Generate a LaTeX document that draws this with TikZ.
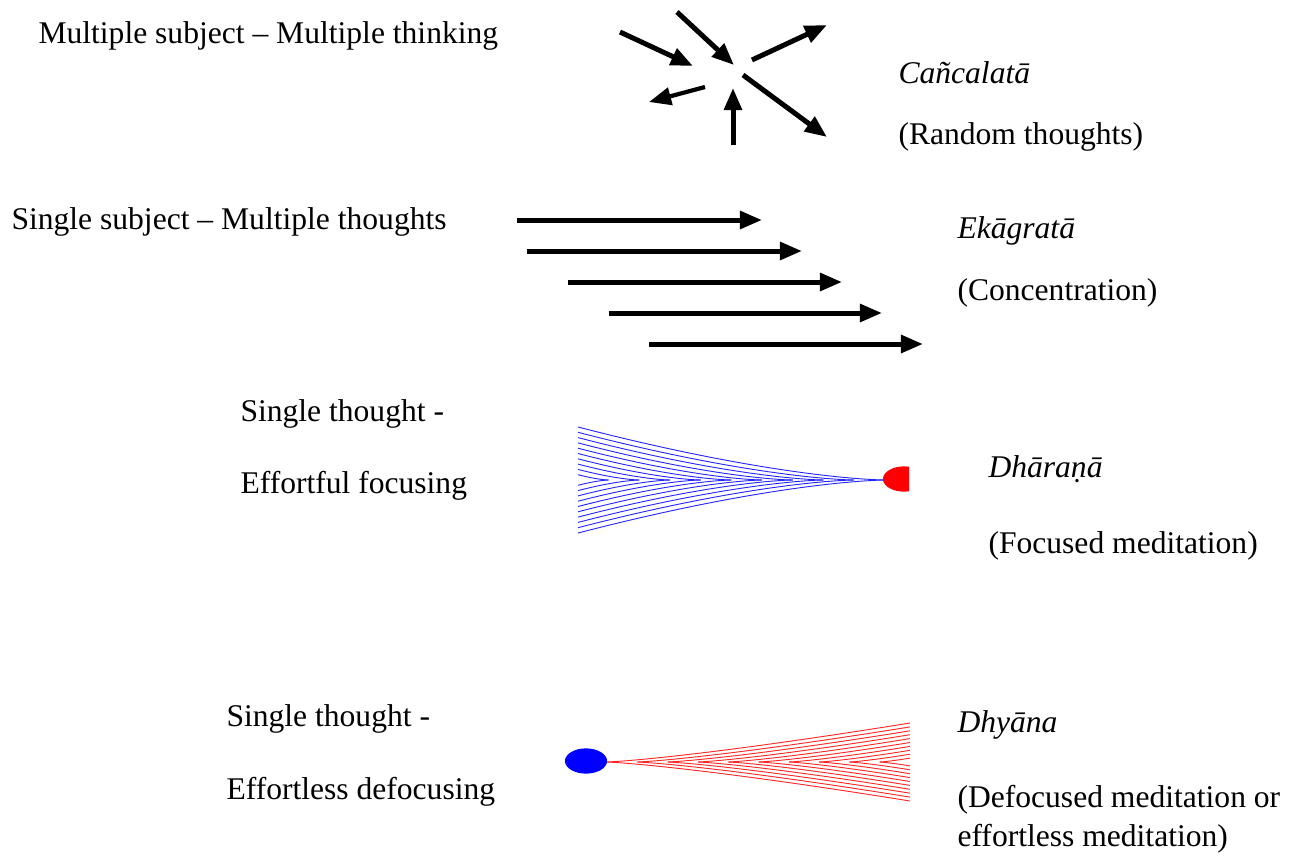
\documentclass[tikz,border=0pt]{standalone}
\usepackage{fontspec}
\setmainfont{Liberation Serif}
\usetikzlibrary{arrows.meta}

\begin{document}
\begin{tikzpicture}[x=0.38pt, y=-0.38pt,
    txt/.style={anchor=base west, inner sep=0pt, font=\fontsize{12}{14}\selectfont},
    itxt/.style={txt, font=\fontsize{12}{14}\selectfont\itshape},
    thought/.style={-{Triangle[length=8.4pt, width=6.6pt]}, line width=1.9pt, draw=black},
    bluefan/.style={draw=blue!85, line width=0.35pt},
    redfan/.style={draw=red!85, line width=0.35pt}]
    \useasboundingbox (0,0) rectangle (1303,857);

    % 1. Cancalata
    \node[txt] (multsub) at (38,43) {Multiple subject – Multiple thinking};
    \draw[thought] (620,32) -- (693,66);
    \draw[thought] (677,12) -- (734,65);
    \draw[thought] (752,60) -- (827,25);
    \draw[thought, line width=1.6pt] (705,87) -- (649,102);
    \draw[thought] (733,145) -- (733,88);
    \draw[thought] (743,75) -- (827,137);
    \node[itxt] (cancala) at (898,83) {Cañcalatā};
    \node[txt] (random) at (898,144) {(Random thoughts)};

    % 2. Ekagrata
    \node[txt] (singsub) at (11,229) {Single subject – Multiple thoughts};
    \draw[thought] (517,220) -- (762,220);
    \draw[thought] (527,251) -- (802,251);
    \draw[thought] (568,282) -- (842,282);
    \draw[thought] (609,313) -- (882,313);
    \draw[thought] (649,344) -- (923,344);
    \node[itxt] (ekagra) at (957,238) {Ekāgratā};
    \node[txt] (concen) at (957,300) {(Concentration)};

    % 3. Dharana
    \node[txt] (single1) at (240,421) {Single thought -};
    \node[txt] (effort1) at (240,493) {Effortful focusing};
    \foreach \k in {1,...,10} {
        \draw[bluefan] plot[domain=0:1, samples=30] ({578+30.7*\k*\x}, {480-5.3*\k*(1-\x)*sqrt(1-\x)});
        \draw[bluefan] plot[domain=0:1, samples=30] ({578+30.7*\k*\x}, {480+5.3*\k*(1-\x)*sqrt(1-\x)});
    }
    \begin{scope}
        \clip (870,450) rectangle (909,510);
        \fill[red] (904,479) ellipse [x radius=8pt, y radius=4.8pt];
    \end{scope}
    \node[itxt] (dharana) at (988,477) {Dhāraṇā};
    \node[txt] (focused) at (988,553) {(Focused meditation)};

    % 4. Dhyana
    \node[txt] (single2) at (226,726) {Single thought -};
    \node[txt] (effort2) at (226,799) {Effortless defocusing};
    \foreach \k in {1,...,10} {
        \draw[redfan] plot[domain=0:1, samples=30] ({910-30.3*\k*\x}, {762-3.9*\k*(1-\x)*sqrt(sqrt(1-\x))});
        \draw[redfan] plot[domain=0:1, samples=30] ({910-30.3*\k*\x}, {762+3.9*\k*(1-\x)*sqrt(sqrt(1-\x))});
    }
    \fill[blue] (586,761) ellipse [x radius=8pt, y radius=4.8pt];
    \node[itxt] (dhyana) at (957,732) {Dhyāna};
    \node[txt] (defoc1) at (957,807) {(Defocused meditation or};
    \node[txt] (defoc2) at (957,846) {effortless meditation)};
\end{tikzpicture}
\end{document}
